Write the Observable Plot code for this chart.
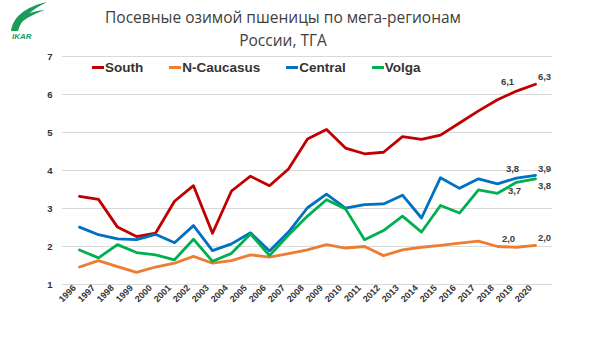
<!DOCTYPE html>
<html><head><meta charset="utf-8">
<script src="https://cdn.jsdelivr.net/npm/d3@7"></script>
<script src="https://cdn.jsdelivr.net/npm/@observablehq/plot@0.6"></script>
<style>
body{margin:0;background:#fff;}
#wrap{position:relative;width:600px;height:338px;overflow:hidden;font-family:"Open Sans",sans-serif;}
#title{position:absolute;left:0;top:6px;width:566px;text-align:center;font-size:15.5px;line-height:23px;color:#404040;}
#logo{position:absolute;left:3px;top:1px;}
#legend{position:absolute;top:60px;left:92px;font-family:"Liberation Sans",Arial,sans-serif;font-weight:bold;font-size:13.5px;color:#333;display:flex;}
#legend span.item{display:flex;align-items:center;margin-right:26px;}
#legend span.sw{display:inline-block;width:12px;height:3px;margin-right:1px;}
#chart{position:absolute;left:0;top:50px;}
</style>
</head><body>
<div id="wrap">
  <svg id="logo" width="48" height="40" viewBox="0 0 48 40">
    <path d="M8 30 C10 16 22 6 44 1 C30 8 19 16 15 30 Z" fill="#1a9b5a"/>
    <path d="M13 21 C20 13 30 10 42 9 C31 13 22 17 16 24 Z" fill="#1a9b5a"/>
    <text x="9" y="38" font-size="8" font-style="italic" font-weight="bold" fill="#1a9b5a" font-family="Liberation Sans">IKAR</text>
  </svg>
  <div id="title">Посевные озимой пшеницы по мега-регионам<br>России, ТГА</div>
  <div id="chart"></div>
  <div id="legend"></div>
</div>
<script>
const years = ["1996","1997","1998","1999","2000","2001","2002","2003","2004","2005","2006","2007","2008","2009","2010","2011","2012","2013","2014","2015","2016","2017","2018","2019","2020"];
const seriesNames = ["South","N-Caucasus","Central","Volga"];
const seriesColors = ["#c00000","#ed7d31","#0070c0","#00b050"];
const south     = [3.32,3.24,2.51,2.26,2.35,3.19,3.60,2.35,3.46,3.85,3.60,4.04,4.83,5.08,4.59,4.44,4.48,4.89,4.82,4.93,5.25,5.57,5.86,6.09,6.27];
const nCaucasus = [1.46,1.63,1.47,1.32,1.46,1.56,1.74,1.56,1.63,1.78,1.72,1.81,1.91,2.05,1.96,2.00,1.76,1.91,1.98,2.03,2.09,2.14,2.00,1.98,2.03];
const central   = [2.51,2.31,2.20,2.18,2.32,2.10,2.55,1.89,2.07,2.36,1.88,2.38,3.02,3.38,3.01,3.10,3.12,3.35,2.75,3.81,3.53,3.78,3.65,3.80,3.87];
const volga     = [1.91,1.70,2.05,1.84,1.78,1.65,2.19,1.61,1.82,2.33,1.76,2.30,2.80,3.23,2.99,2.18,2.42,2.80,2.38,3.08,2.88,3.49,3.40,3.69,3.78];
const yTicks = [1,2,3,4,5,6,7];

const valuesBySeries = [south, nCaucasus, central, volga];
const rows = [];
seriesNames.forEach((s, i) => years.forEach((y, j) => rows.push({series: s, year: y, value: valuesBySeries[i][j]})));
const fmt = v => v.toFixed(1).replace(".", ",");
const pick = (s, y) => rows.filter(d => d.series === s && d.year === y);

const labelFont = {fontSize: 9.5, fontWeight: "bold", fill: "#404040", fontFamily: "Liberation Sans, Arial, sans-serif"};

const chart = Plot.plot({
  width: 600, height: 288,
  marginTop: 6, marginBottom: 54, marginLeft: 62, marginRight: 48,
  style: {fontFamily: "Liberation Sans, Arial, sans-serif", background: "transparent"},
  x: {type: "point", domain: years, padding: 0.55},
  y: {domain: [1, 7]},
  color: {domain: seriesNames, range: seriesColors},
  marks: [
    Plot.gridY(yTicks, {stroke: "#d9d9d9", strokeOpacity: 1, strokeWidth: 1}),
    Plot.axisY(yTicks, {tickSize: 0, tickPadding: 10, fontSize: 9.5, fontWeight: "bold", fill: "#333", label: null}),
    Plot.axisX({tickSize: 0, tickRotate: -45, tickPadding: 3, dx: -5, dy: -1, fontSize: 9, fontWeight: "bold", fill: "#333", label: null}),
    Plot.line(rows, {x: "year", y: "value", z: "series", stroke: "series", strokeWidth: 2.8, curve: "linear"}),
    // 2019 labels
    Plot.text(pick("South", "2019"), {x: "year", y: "value", text: d => fmt(d.value), dx: -9, dy: -9, ...labelFont}),
    Plot.text(pick("Central", "2019"), {x: "year", y: "value", text: d => fmt(d.value), dx: -4, dy: -9, ...labelFont}),
    Plot.text(pick("Volga", "2019"), {x: "year", y: "value", text: d => fmt(d.value), dx: -2, dy: 9, ...labelFont}),
    Plot.text(pick("N-Caucasus", "2019"), {x: "year", y: "value", text: d => fmt(d.value), dx: -8, dy: -8, ...labelFont}),
    // 2020 labels
    Plot.text(pick("South", "2020"), {x: "year", y: "value", text: d => fmt(d.value), dx: 9, dy: -7, ...labelFont}),
    Plot.text(pick("Central", "2020"), {x: "year", y: "value", text: d => fmt(d.value), dx: 9, dy: -6, ...labelFont}),
    Plot.text(pick("Volga", "2020"), {x: "year", y: "value", text: d => fmt(d.value), dx: 9, dy: 7, ...labelFont}),
    Plot.text(pick("N-Caucasus", "2020"), {x: "year", y: "value", text: d => fmt(d.value), dx: 9, dy: -7, ...labelFont})
  ]
});
document.getElementById("chart").appendChild(chart);

const legend = document.getElementById("legend");
seriesNames.forEach((s, i) => {
  const item = document.createElement("span");
  item.className = "item";
  const sw = document.createElement("span");
  sw.className = "sw";
  sw.style.background = seriesColors[i];
  item.appendChild(sw);
  item.appendChild(document.createTextNode(s));
  legend.appendChild(item);
});
</script>
</body></html>
